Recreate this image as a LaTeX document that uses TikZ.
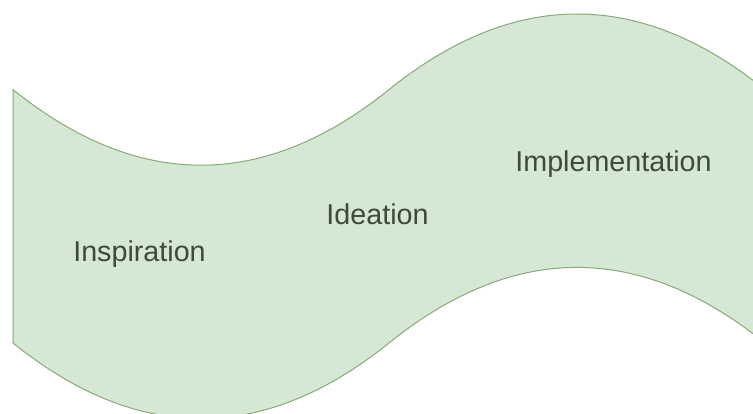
\documentclass[tikz,border=0pt]{standalone}
\usepackage{fontspec}
\setmainfont{Liberation Sans}
\definecolor{bandfill}{HTML}{D5E8D4}
\definecolor{bandline}{HTML}{8AA87A}
\definecolor{txt}{HTML}{3F4A3F}
\begin{document}
\begin{tikzpicture}[x=1pt,y=-1pt,
  lbl/.style={anchor=base,text=txt,font=\fontsize{28.7}{32}\selectfont,inner sep=0pt}]
\useasboundingbox (0,0) rectangle (753,414);
\fill[white] (0,0) rectangle (753,414);
\clip (0,0) rectangle (753,414);
\filldraw[fill=bandfill,draw=bandline,line width=1pt]
  (13,89.6) .. controls (138.3,190.4) and (263.7,190.4) .. (389,89.6)
  .. controls (514.3,-11.2) and (639.7,-11.2) .. (765,89.6)
  -- (765,343)
  .. controls (639.7,242.2) and (514.3,242.2) .. (389,343)
  .. controls (263.7,443.8) and (138.3,443.8) .. (13,343) -- cycle;
\node[lbl] (insp) at (139.5,262) {Inspiration};
\node[lbl] (idea) at (377.5,225) {Ideation};
\node[lbl] (impl) at (613.5,172) {Implementation};
\end{tikzpicture}
\end{document}
